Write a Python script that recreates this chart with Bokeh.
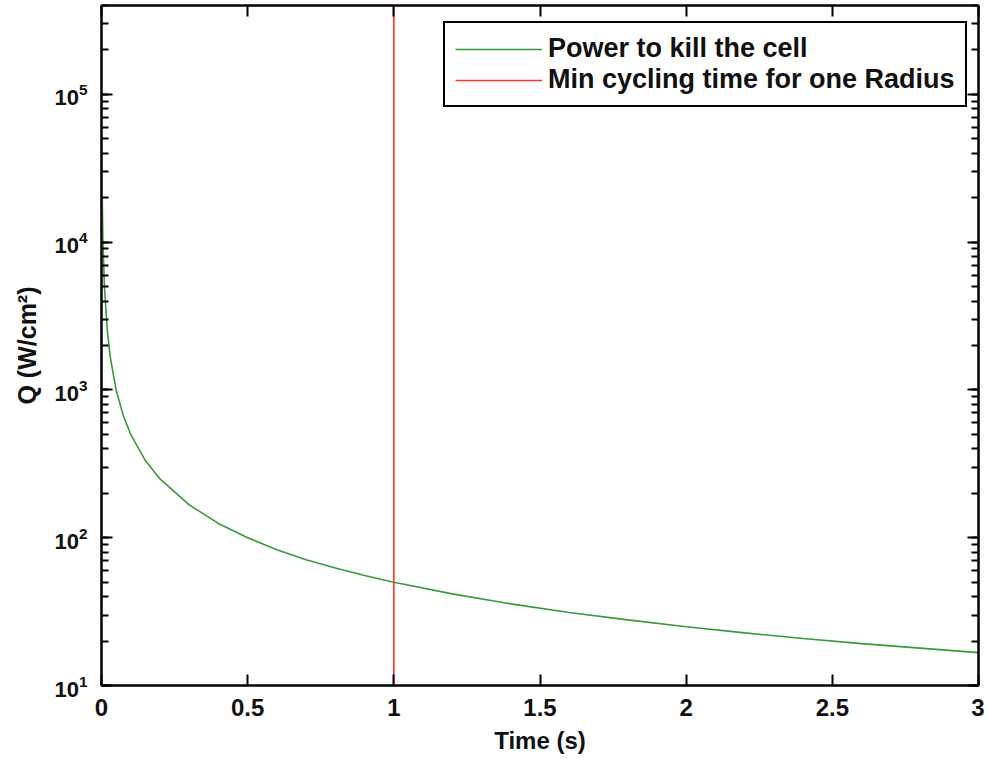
from bokeh.plotting import figure
from bokeh.models import (LogAxis, LinearAxis, LogTicker, FixedTicker, Legend, LegendItem,
                          Range1d, CustomJSTickFormatter)
from bokeh.embed import file_html
from bokeh.resources import INLINE

# ---- data ----
time_s = [0.0025, 0.005, 0.01, 0.02, 0.03, 0.05, 0.075, 0.1, 0.15, 0.2, 0.3, 0.4,
          0.5, 0.6, 0.7, 0.8, 0.9, 1.0, 1.2, 1.4, 1.6, 1.8, 2.0, 2.2, 2.4, 2.6, 2.8, 3.0]
power_q = [20000, 10000, 5000, 2500, 1670, 1000, 667, 500, 333, 250, 167, 125,
           100, 83, 71, 62.5, 55.6, 50, 41.7, 35.7, 31.2, 27.8, 25, 22.7, 20.8, 19.2, 17.9, 16.7]
min_cycle_time = [1.0, 1.0]
y_limits = [10, 4e5]
x_ticks = [0, 0.5, 1, 1.5, 2, 2.5, 3]

FONT = "Liberation Sans"

p = figure(width=986, height=752, y_axis_type="log",
           x_range=Range1d(0, 3), y_range=Range1d(y_limits[0], y_limits[1]),
           output_backend="svg", toolbar_location=None,
           min_border_left=101, min_border_right=6, min_border_top=5, min_border_bottom=60)
p.frame_width = 877
p.frame_height = 680
p.background_fill_color = "white"
p.border_fill_color = "white"
p.outline_line_color = "black"
p.outline_line_width = 2
p.grid.visible = False

green = p.line(time_s, power_q, line_color="#3a993a", line_width=1.6)
red = p.line(min_cycle_time, y_limits, line_color="#ff3030", line_width=1.6)

def style(ax, size="24px"):
    ax.axis_line_color = "black"
    ax.axis_line_width = 2
    ax.major_tick_in = 11
    ax.major_tick_out = 0
    ax.minor_tick_in = 7
    ax.minor_tick_out = 0
    ax.major_tick_line_width = 2
    ax.minor_tick_line_width = 2
    ax.major_label_text_font = FONT
    ax.major_label_text_font_style = "bold"
    ax.major_label_text_font_size = size
    ax.major_label_text_color = "#111111"
    ax.axis_label_text_font = FONT
    ax.axis_label_text_font_style = "bold"
    ax.axis_label_text_font_size = "24px"
    ax.axis_label_text_color = "#111111"

xa = p.xaxis[0]
xa.ticker = FixedTicker(ticks=x_ticks, minor_ticks=[])
xa.axis_label = "Time (s)"
style(xa)
xa.major_label_standoff = 13
xa.axis_label_standoff = 8

ya = p.yaxis[0]
ya.ticker = LogTicker(num_minor_ticks=10)
ya.axis_label = "Q (W/cm²)"
style(ya, "22px")
ya.axis_label_text_font_size = "25px"
ya.major_label_standoff = 14
ya.axis_label_standoff = 10

top = LinearAxis(ticker=FixedTicker(ticks=x_ticks, minor_ticks=[]),
                 formatter=CustomJSTickFormatter(code="return '';"))
style(top)
top.major_label_standoff = 0
p.add_layout(top, "above")
right = LogAxis(ticker=LogTicker(num_minor_ticks=10),
                formatter=CustomJSTickFormatter(code="return '';"))
style(right)
right.major_label_standoff = 0
p.add_layout(right, "right")

legend = Legend(items=[LegendItem(label="Power to kill the cell", renderers=[green]),
                       LegendItem(label="Min cycling time for one Radius", renderers=[red])],
                location=(342, 578))
legend.label_text_font = FONT
legend.label_text_font_style = "bold"
legend.label_text_font_size = "27px"
legend.label_text_color = "#111111"
legend.label_height = 26
legend.glyph_height = 26
legend.border_line_color = "black"
legend.border_line_alpha = 1.0
legend.border_line_width = 2
legend.glyph_width = 87
legend.spacing = 0
legend.padding = 10
legend.margin = 0
legend.label_standoff = 6
p.add_layout(legend)

open("out.html", "w").write(file_html(p, INLINE))
